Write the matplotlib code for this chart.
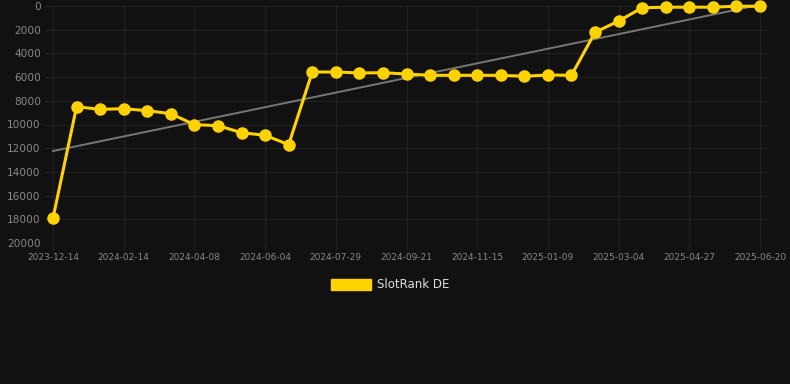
import numpy as np
import matplotlib.pyplot as plt

# rank history (lower is better), one point per sample
ranks = [17900, 8500, 8720, 8670, 8830, 9090, 10010, 10100, 10690, 10910, 11700,
         5570, 5570, 5650, 5630, 5740, 5850, 5850, 5850, 5850, 5930, 5820, 5850,
         2220, 1270, 150, 100, 100, 100, 20, 20]
tick_labels = ["2023-12-14", "2024-02-14", "2024-04-08", "2024-06-04", "2024-07-29",
               "2024-09-21", "2024-11-15", "2025-01-09", "2025-03-04", "2025-04-27",
               "2025-06-20"]
series_name = "SlotRank DE"

bg = "#111111"
grid_c = "#222222"
gold = "#FFD200"

x = np.arange(len(ranks))
fig = plt.figure(figsize=(7.9, 3.84), dpi=100, facecolor=bg)
ax = fig.add_axes([45/790, 1 - 243/384, (768 - 45)/790, (243 - 6)/384])
ax.set_facecolor(bg)

# trend line
k, b = np.polyfit(x, ranks, 1)
ax.plot(x, k*x + b, color="#777777", lw=1.4, zorder=2)

ax.plot(x, ranks, color=gold, lw=2.2, marker="o", ms=8, mfc=gold, mec=gold,
        zorder=3, clip_on=False, label=series_name)

ax.set_xlim(-8/23.57, 30 + 8/23.57)
ax.set_ylim(20000, 0)
ax.set_yticks(range(0, 20001, 2000))
ax.set_xticks(x[::3])
ax.set_xticklabels(tick_labels)
ax.tick_params(axis="y", colors="#888888", labelsize=7.6, length=0, pad=3)
ax.tick_params(axis="x", colors=grid_c, labelcolor="#888888", labelsize=6.5,
               length=5, width=1, pad=2)
ax.grid(True, color=grid_c, lw=0.8)
for s in ax.spines.values():
    s.set_visible(False)
ax.axhline(20000, color="#2e2e2e", lw=0.8)

leg = fig.legend(handles=[plt.Rectangle((0, 0), 1, 1, fc=gold, ec=gold)],
                 labels=[series_name], loc="center", bbox_to_anchor=(390/790, 1 - 285/384),
                 frameon=False, fontsize=8.5, handlelength=3.4, handleheight=1.0,
                 handletextpad=0.5)
for t in leg.get_texts():
    t.set_color("#dddddd")

fig.savefig("out.png", dpi=100, facecolor=bg)
